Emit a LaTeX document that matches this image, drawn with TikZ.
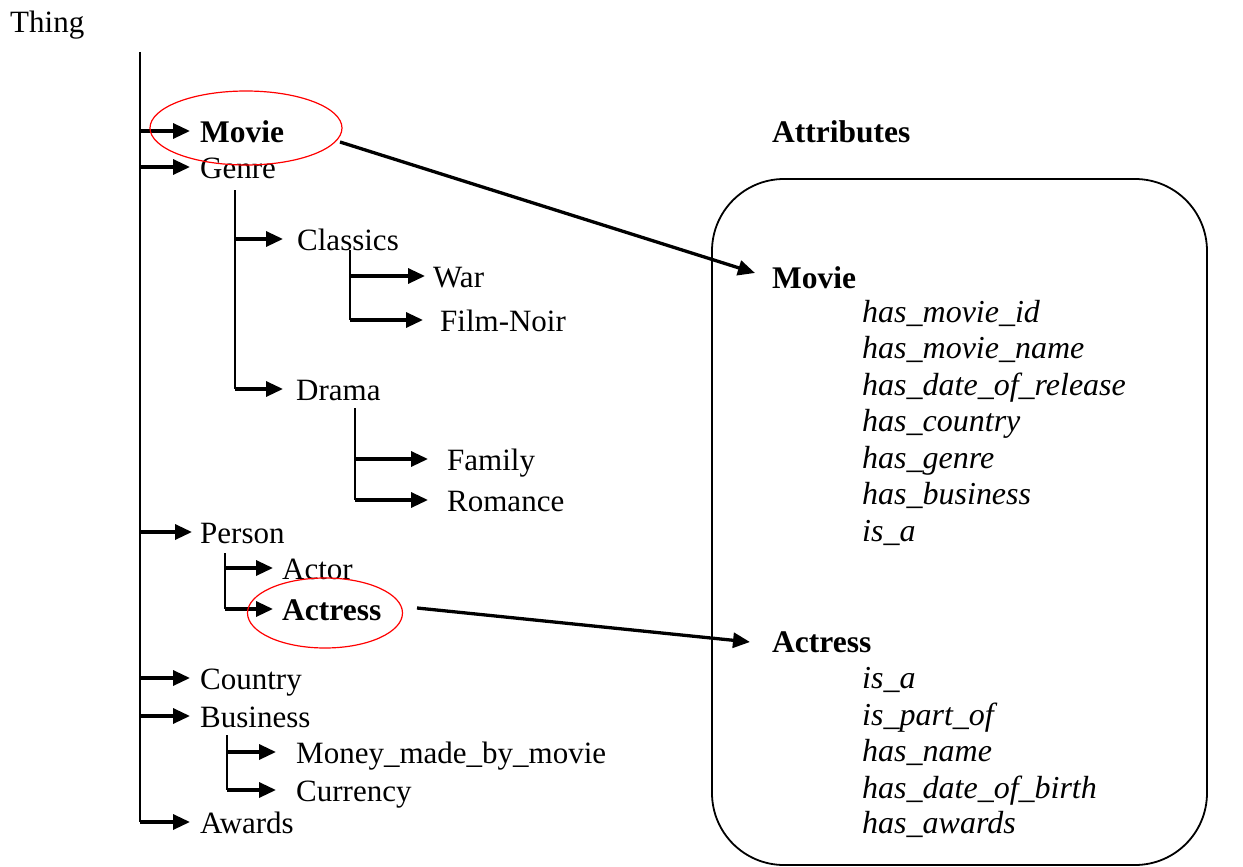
\documentclass[tikz,border=0pt]{standalone}
\usepackage{fontspec}
\setmainfont{Liberation Serif}
\usetikzlibrary{arrows.meta,shapes.geometric}
\begin{document}
\begin{tikzpicture}[x=1pt,y=1pt,
  txt/.style={anchor=base west,inner sep=0pt,font=\fontsize{31}{37}\selectfont},
  btxt/.style={txt,font=\fontsize{31.5}{37}\selectfont\bfseries},
  itxt/.style={txt,font=\fontsize{32}{37}\selectfont\itshape},
  trunkline/.style={line width=2.2pt},
  arr/.style={line width=3.3pt,-{Triangle[length=17pt,width=15pt]}},
  ring/.style={draw=red,line width=1.2pt,ellipse,inner sep=0pt}]
\useasboundingbox (0,0) rectangle (1243,-867);

% root
\node[txt] (thing) at (10,-33) {Thing};

% hierarchy labels and arrow tips
\node[btxt] (movie) at (200,-142) {Movie};        \coordinate (movie-in) at (190,-131);
\node[txt] (genre) at (200,-178) {Genre};         \coordinate (genre-in) at (190,-167);
\node[txt] (classics) at (297,-250) {Classics};   \coordinate (classics-in) at (283,-239);
\node[txt] (war) at (433,-287) {War};             \coordinate (war-in) at (425,-276);
\node[txt] (noir) at (440,-331) {Film-Noir};      \coordinate (noir-in) at (423,-320);
\node[txt] (drama) at (296,-400) {Drama};         \coordinate (drama-in) at (283,-389);
\node[txt] (family) at (447,-470) {Family};       \coordinate (family-in) at (428,-459);
\node[txt] (romance) at (447,-511) {Romance};     \coordinate (romance-in) at (428,-500);
\node[txt] (person) at (200,-543) {Person};       \coordinate (person-in) at (192,-532);
\node[txt] (actor) at (282,-579) {Actor};         \coordinate (actor-in) at (273,-568);
\node[btxt] (actress) at (282,-620) {Actress};    \coordinate (actress-in) at (273,-609);
\node[txt] (country) at (200,-689) {Country};     \coordinate (country-in) at (190,-678);
\node[txt] (business) at (200,-727) {Business};   \coordinate (business-in) at (190,-716);
\node[txt] (money) at (296,-763) {Money\_made\_by\_movie}; \coordinate (money-in) at (276,-752);
\node[txt] (currency) at (296,-801) {Currency};   \coordinate (currency-in) at (276,-790);
\node[txt] (awards) at (200,-833) {Awards};       \coordinate (awards-in) at (190,-822);

% vertical branch lines
\coordinate (trunk) at (140,-52);
\coordinate (gbr) at (235,-190);
\coordinate (cbr) at (350,-250);
\coordinate (dbr) at (355,-408);
\coordinate (pbr) at (225,-553);
\coordinate (bbr) at (227,-735);

\draw[trunkline] (trunk) -- (trunk |- awards-in);
\draw[trunkline] (gbr) -- (gbr |- drama-in);
\draw[trunkline] (cbr) -- (cbr |- noir-in);
\draw[trunkline] (dbr) -- (dbr |- romance-in);
\draw[trunkline] (pbr) -- (pbr |- actress-in);
\draw[trunkline] (bbr) -- (bbr |- currency-in);

% branch arrows
\foreach \n in {movie,genre,person,country,business,awards}
  \draw[arr] (trunk |- \n-in) -- (\n-in);
\foreach \n in {classics,drama}
  \draw[arr] (gbr |- \n-in) -- (\n-in);
\foreach \n in {war,noir}
  \draw[arr] (cbr |- \n-in) -- (\n-in);
\foreach \n in {family,romance}
  \draw[arr] (dbr |- \n-in) -- (\n-in);
\foreach \n in {actor,actress}
  \draw[arr] (pbr |- \n-in) -- (\n-in);
\foreach \n in {money,currency}
  \draw[arr] (bbr |- \n-in) -- (\n-in);

% highlight rings
\node[ring,minimum width=192pt,minimum height=74pt] (movie-ring) at (246,-128) {};
\node[ring,minimum width=155pt,minimum height=70pt] (actress-ring) at (325,-613) {};

% attribute panel
\node[btxt] (attrtitle) at (772,-142) {Attributes};
\draw[line width=1.8pt,rounded corners=72pt] (712,-179) rectangle (1207,-865);

\node[btxt] (amovie) at (772,-288) {Movie};
\coordinate (amovie-in) at (755,-273);
\node[itxt] (m1) at (862,-322) {has\_movie\_id};
\node[itxt] (m2) at (862,-358.5) {has\_movie\_name};
\node[itxt] (m3) at (862,-395) {has\_date\_of\_release};
\node[itxt] (m4) at (862,-431.5) {has\_country};
\node[itxt] (m5) at (862,-468) {has\_genre};
\node[itxt] (m6) at (862,-504.5) {has\_business};
\node[itxt] (m7) at (862,-541) {is\_a};

\node[btxt] (aactress) at (772,-652) {Actress};
\coordinate (aactress-in) at (750,-642);
\node[itxt] (a1) at (862,-688) {is\_a};
\node[itxt] (a2) at (862,-725) {is\_part\_of};
\node[itxt] (a3) at (862,-761) {has\_name};
\node[itxt] (a4) at (862,-798) {has\_date\_of\_birth};
\node[itxt] (a5) at (862,-833) {has\_awards};

% links from the tree to the attribute panel
\coordinate (movie-out) at (340,-142);
\coordinate (actress-out) at (417,-608);
\draw[arr] (movie-out) -- (amovie-in);
\draw[arr] (actress-out) -- (aactress-in);
\end{tikzpicture}
\end{document}
